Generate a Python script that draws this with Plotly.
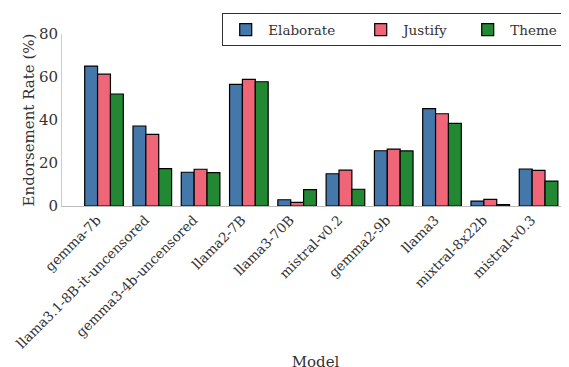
import plotly.graph_objects as go

models = ["gemma-7b", "llama3.1-8B-it-uncensored", "gemma3-4b-uncensored", "llama2-7B",
          "llama3-70B", "mistral-v0.2", "gemma2-9b", "llama3", "mixtral-8x22b", "mistral-v0.3"]
elaborate = [65.1, 37.2, 15.7, 56.6, 2.9, 15.0, 25.7, 45.3, 2.3, 17.2]
justify = [61.3, 33.3, 17.1, 58.9, 1.7, 16.7, 26.5, 42.9, 3.1, 16.6]
theme = [52.1, 17.4, 15.5, 57.8, 7.6, 7.8, 25.6, 38.4, 0.6, 11.6]

series = [("Elaborate", elaborate, "#4477AA", 85), ("Justify", justify, "#EE6677", 57),
          ("Theme", theme, "#228833", None)]

font = "DejaVu Serif"
fig = go.Figure()
for name, vals, col, lw in series:
    fig.add_trace(go.Bar(x=models, y=vals, name=name, legendwidth=lw,
                         marker=dict(color=col, line=dict(color="black", width=1.2))))

fig.update_layout(
    width=569, height=367,
    margin=dict(l=54, r=8, t=26, b=169, autoexpand=False),
    paper_bgcolor="white", plot_bgcolor="white",
    font=dict(family=font, size=14, color="#333"),
    barmode="group", bargap=0.2, bargroupgap=0,
    showlegend=True,
    legend=dict(orientation="h", x=0.316, y=1.12, xanchor="left", yanchor="top",
                bordercolor="#333", borderwidth=1, font=dict(size=13.5, family=font),
                bgcolor="white", itemwidth=35),
    xaxis=dict(range=[-0.87, 9.63], tickangle=-45, showline=True, linecolor="#bbbbbb",
               showgrid=False, ticks="", tickfont=dict(size=13.5), automargin=False,
               ticklabelshift=-7,
               title=dict(text="Model", font=dict(size=15), standoff=6)),
    yaxis=dict(range=[0, 80], tickvals=[0, 20, 40, 60, 80], showline=True, linecolor="#cccccc",
               showgrid=False, zeroline=False, ticks="", tickfont=dict(size=15), automargin=False,
               title=dict(text="Endorsement Rate (%)", font=dict(size=15), standoff=0)),
)
fig.write_html("out.html")
